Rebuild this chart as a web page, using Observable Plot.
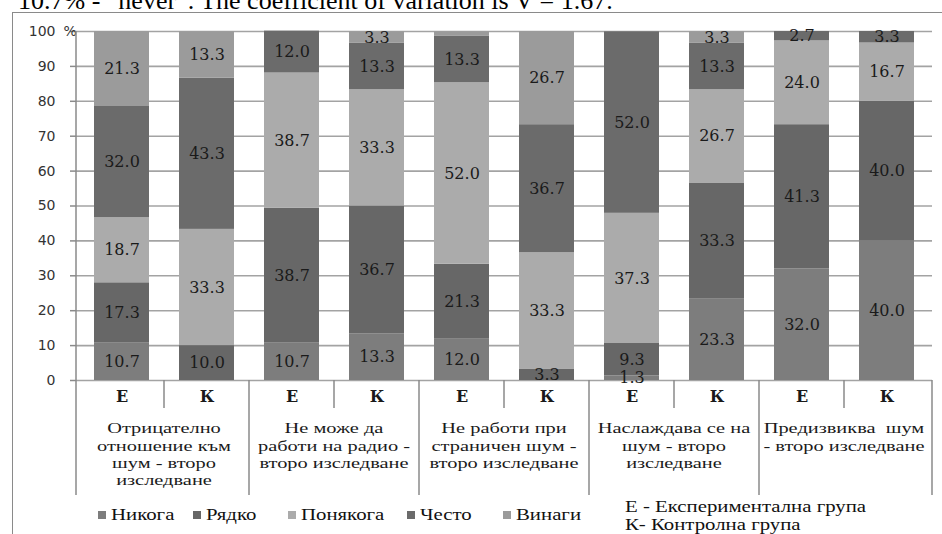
<!DOCTYPE html>
<html><head><meta charset="utf-8">
<script src="https://cdn.jsdelivr.net/npm/d3@7"></script>
<script src="https://cdn.jsdelivr.net/npm/@observablehq/plot@0.6"></script>
<style>
html,body{margin:0;padding:0;background:#fff;}
body{width:942px;height:534px;position:relative;overflow:hidden;font-family:"Liberation Serif",serif;color:#111;}
#top{position:absolute;left:0;top:0;width:942px;height:13px;overflow:hidden;}
#top span{position:absolute;left:18px;top:-12px;font-size:26px;line-height:26px;white-space:nowrap;color:#000;}
#frame{position:absolute;left:12px;top:12px;width:930px;height:522px;border-top:1.5px solid #8a8a8a;border-left:1.5px solid #8a8a8a;}
#chart{position:absolute;left:12px;top:14px;}
#chart svg [aria-label^="y-axis"] line,#chart svg [aria-label^="y-axis"] path{stroke:#8a8a8a;stroke-width:1.5px;}
.lg{position:absolute;font-family:"Liberation Serif",serif;font-size:16px;line-height:18px;color:#111;white-space:nowrap;transform:scaleX(1.3);transform-origin:0 0;}
.sw{position:absolute;width:8px;height:8px;}
</style>
</head><body>
<div id="top"><span>10.7% - “never”. The coefficient of variation is V = 1.67.</span></div>
<div id="frame"></div>
<div id="chart"></div>
<div id="legend"></div>
<script>
const groupLines = [
  ["Отрицателно", "отношение към", "шум - второ", "изследване"],
  ["Не може да", "работи на радио -", "второ изследване"],
  ["Не работи при", "страничен шум -", "второ изследване"],
  ["Наслаждава се на", "шум - второ", "изследване"],
  ["Предизвиква  шум", "- второ изследване"]
];
const teams = ["Е", "К"];
const answers = ["Никога", "Рядко", "Понякога", "Често", "Винаги"];
const colors = ["#7d7d7d", "#676767", "#ababab", "#6b6b6b", "#9b9b9b"];
// one value per bar: group1 Е, group1 К, group2 Е, ...
const never     = [10.7, 0,    10.7, 13.3, 12.0, 0,    1.3,  23.3, 32.0, 40.0];
const rarely    = [17.3, 10.0, 38.7, 36.7, 21.3, 3.3,  9.3,  33.3, 41.3, 40.0];
const sometimes = [18.7, 33.3, 38.7, 33.3, 52.0, 33.3, 37.3, 26.7, 24.0, 16.7];
const often     = [32.0, 43.3, 12.0, 13.3, 13.3, 36.7, 52.0, 13.3, 2.7,  3.3];
const always    = [21.3, 13.3, 0,    3.3,  1.3,  26.7, 0,    3.3,  0,    0];
const unlabeled = ["2Е-Винаги"];
const noteLines = ["Е - Експериментална група", "К- Контролна група"];
const yTicks = [0, 10, 20, 30, 40, 50, 60, 70, 80, 90, 100];

const series = [never, rarely, sometimes, often, always];
const bars = groupLines.flatMap((g, gi) => teams.map(t => ({bar: gi + t, team: t, group: gi})));
const rows = series.flatMap((vals, si) => bars.map((b, i) => ({bar: b.bar, team: b.team, answer: answers[si], value: vals[i]})));
const labelRows = rows.filter(d => d.value > 0 && !unlabeled.includes(d.bar + "-" + d.answer));

const plot = Plot.plot({
  width: 930, height: 481,
  marginLeft: 64, marginRight: 10, marginTop: 17, marginBottom: 115,
  style: {fontFamily: "DejaVu Sans", fontSize: "14px", color: "#333", background: "transparent", overflow: "visible"},
  x: {domain: bars.map(b => b.bar), paddingInner: 0.35, paddingOuter: 0.175, axis: null},
  y: {domain: [0, 100], ticks: 10, tickSize: 6, tickPadding: 15, label: null, tickFormat: d => String(d)},
  color: {domain: answers, range: colors},
  marks: [
    Plot.ruleY(yTicks, {stroke: "#a3a3a3", strokeWidth: 1.6}),
    Plot.barY(rows, {x: "bar", y: "value", fill: "answer"}),
    Plot.text(labelRows, Plot.stackY({x: "bar", y: "value", z: "answer", text: d => d.value.toFixed(1), fontFamily: "DejaVu Serif", fontSize: 16, fill: "#1a1a1a"})),
    Plot.text([100], {y: d => d, text: () => "%", frameAnchor: "left", dx: -13, textAnchor: "start", fontFamily: "DejaVu Sans", fontSize: 14, fill: "#333"}),
    Plot.text(bars, {x: "bar", text: "team", frameAnchor: "bottom", dy: 21, fontFamily: "DejaVu Serif", fontSize: 16, fontWeight: "bold", fill: "#1a1a1a"})
  ]
});
document.getElementById("chart").appendChild(plot);

// category axis dividers and group labels, placed from the plot's own scales
const xs = plot.scale("x"), ys = plot.scale("y");
const pos = bars.map(b => xs.apply(b.bar));
const bw = xs.bandwidth;
const edges = [xs.range[0], ...pos.slice(1).map((p, i) => (pos[i] + bw + p) / 2), xs.range[1]];
const y0 = ys.apply(0), y100 = ys.apply(100), yEnd = 481;
const svg = d3.select(plot);
const g = svg.append("g").attr("stroke", "#8a8a8a").attr("stroke-width", 1.5);
g.append("line").attr("x1", edges[0]).attr("x2", edges[0]).attr("y1", y100).attr("y2", yEnd);
edges.forEach((e, k) => {
  if (k === 0) return;
  g.append("line").attr("x1", e).attr("x2", e).attr("y1", y0).attr("y2", k % 2 === 0 ? yEnd : y0 + 28);
});
const sx = 1.36;
const gl = svg.append("g").attr("font-family", "Liberation Serif").attr("font-size", 15).attr("fill", "#1a1a1a").attr("text-anchor", "middle");
groupLines.forEach((lines, gi) => {
  const cx = (pos[gi * 2] + pos[gi * 2 + 1] + bw) / 2;
  lines.forEach((t, j) => {
    gl.append("text").attr("transform", `scale(${sx},1)`).attr("x", cx / sx).attr("y", y0 + 48 + j * 17.3).attr("dy", "0.35em").text(t);
  });
});

// legend below the chart
const legend = document.getElementById("legend");
const lgX = [98, 193, 288, 407, 503];
answers.forEach((a, i) => {
  const s = document.createElement("div");
  s.className = "sw"; s.style.left = lgX[i] + "px"; s.style.top = "511px"; s.style.background = colors[i];
  legend.appendChild(s);
  const t = document.createElement("div");
  t.className = "lg"; t.style.left = (lgX[i] + 13) + "px"; t.style.top = "506px"; t.textContent = a;
  legend.appendChild(t);
});
noteLines.forEach((n, i) => {
  const t = document.createElement("div");
  t.className = "lg"; t.style.left = "625px"; t.style.top = (498 + i * 18) + "px"; t.textContent = n;
  legend.appendChild(t);
});
</script>
</body></html>
